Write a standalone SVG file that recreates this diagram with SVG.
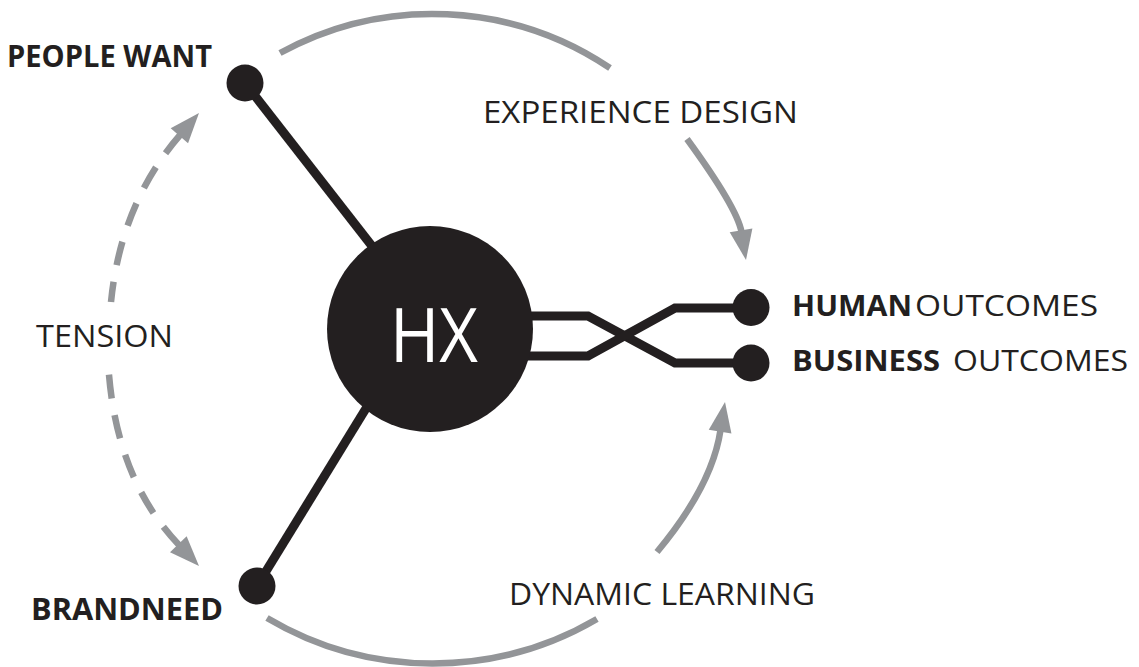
<svg xmlns="http://www.w3.org/2000/svg" xmlns:xlink="http://www.w3.org/1999/xlink" width="1139" height="667" viewBox="0 0 1139 667">
  <style>
    .ink { fill: #231f20; }
    .wire { fill: none; stroke: #231f20; stroke-width: 9; stroke-linejoin: miter; }
    .flow { fill: none; stroke: #939598; stroke-width: 6.5; stroke-linecap: butt; }
    .dashed { stroke-dasharray: 24 17; }
    .head { fill: #939598; }
    .lbl { font-family: "Open Sans", "Noto Sans", "Liberation Sans", sans-serif; fill: #231f20; }
    .bold { font-weight: 700; }
    .reg { font-weight: 400; }
  </style>
  <defs>
    <!-- arrowhead, tip at origin pointing along +x -->
    <path id="arrowhead" d="M0,0 L-30,-11.5 L-30,11.5 Z"/>
  </defs>

  <rect width="1139" height="667" fill="#ffffff"/>

  <g id="connectors">
    <!-- spokes from the hub to the two input nodes -->
    <line class="wire" x1="245" y1="83" x2="400" y2="282"/>
    <line class="wire" x1="257" y1="586" x2="400" y2="353"/>
    <!-- crossed wires to the outcomes -->
    <path class="wire" d="M520,316 H588 L675,363 H751"/>
    <path class="wire" d="M520,356 H588 L675,308 H751"/>

    <!-- grey flow arcs -->
    <path class="flow" d="M280,53 A318,318 0 0,1 610,68"/>
    <path class="flow" d="M687,139 Q737.3,208 741.5,232"/>
    <use class="head" xlink:href="#arrowhead" transform="translate(746,260) rotate(80.5)"/>
    <path class="flow" d="M267,618 A325,325 0 0,0 597,619"/>
    <path class="flow" d="M657,552 Q712.4,485.5 720.5,430"/>
    <use class="head" xlink:href="#arrowhead" transform="translate(725,402) rotate(-80.6)"/>

    <!-- dashed tension arc, split around its label -->
    <path class="flow dashed" d="M180.5,134.5 Q120.9,203 111,302"/>
    <use class="head" xlink:href="#arrowhead" transform="translate(199,113) rotate(-49.1)"/>
    <path class="flow dashed" d="M179,545 Q113.8,476.7 108,360"/>
    <use class="head" xlink:href="#arrowhead" transform="translate(199,566) rotate(46.4)"/>
  </g>

  <g id="hx">
    <circle class="ink" cx="430" cy="329" r="103"/>
    <text x="390" y="362" font-family="Open Sans, Noto Sans, Liberation Sans, sans-serif" font-size="75" fill="#ffffff" textLength="88" lengthAdjust="spacingAndGlyphs">HX</text>
  </g>

  <g id="people-want">
    <circle class="ink" cx="245" cy="83" r="18.5"/>
    <text class="lbl bold" x="7" y="67" font-size="31" textLength="205" lengthAdjust="spacingAndGlyphs">PEOPLE WANT</text>
  </g>

  <g id="brand-need">
    <circle class="ink" cx="257" cy="586" r="18.5"/>
    <text class="lbl bold" x="31" y="620" font-size="31" textLength="192" lengthAdjust="spacingAndGlyphs">BRANDNEED</text>
  </g>

  <g id="human-outcomes">
    <circle class="ink" cx="751" cy="307.5" r="18.5"/>
    <text class="lbl bold" x="792" y="316" font-size="29" textLength="120" lengthAdjust="spacingAndGlyphs">HUMAN</text>
    <text class="lbl reg" x="915" y="316" font-size="29" textLength="183" lengthAdjust="spacingAndGlyphs">OUTCOMES</text>
  </g>

  <g id="business-outcomes">
    <circle class="ink" cx="751" cy="363" r="18.5"/>
    <text class="lbl bold" x="792" y="371" font-size="29" textLength="148" lengthAdjust="spacingAndGlyphs">BUSINESS</text>
    <text class="lbl reg" x="953" y="371" font-size="29" textLength="175" lengthAdjust="spacingAndGlyphs">OUTCOMES</text>
  </g>

  <g id="labels">
    <text class="lbl reg" x="483" y="123" font-size="31" textLength="315" lengthAdjust="spacingAndGlyphs">EXPERIENCE DESIGN</text>
    <text class="lbl reg" x="36" y="347" font-size="31" textLength="137" lengthAdjust="spacingAndGlyphs">TENSION</text>
    <text class="lbl reg" x="509" y="605" font-size="31" textLength="306" lengthAdjust="spacingAndGlyphs">DYNAMIC LEARNING</text>
  </g>
</svg>
